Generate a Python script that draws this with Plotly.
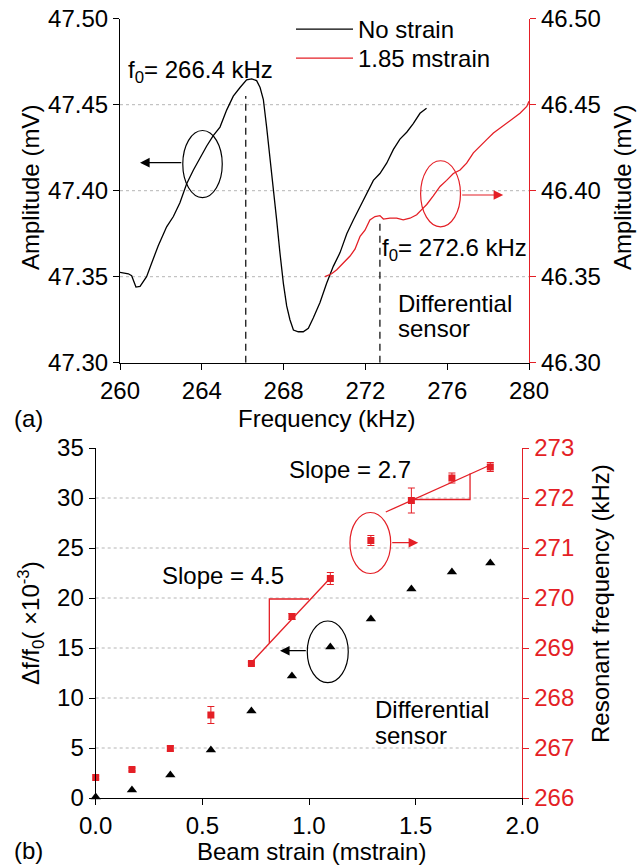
import plotly.graph_objects as go

W, H = 640, 865

# ---------------- Panel (a) data ----------------
freq_no_strain = [260.00, 260.41, 260.57, 260.78, 260.98, 261.30, 261.55, 261.87, 262.28, 262.61,
                  262.93, 263.26, 263.59, 263.91, 264.24, 264.56, 264.89, 265.22, 265.54, 265.87,
                  266.19, 266.44, 266.68, 266.85, 267.01, 267.17, 267.33, 267.50, 267.66, 267.82,
                  267.99, 268.15, 268.31, 268.48, 268.72, 268.96, 269.21, 269.45, 269.78, 270.10,
                  270.43, 270.76, 271.09, 271.41, 271.74, 272.06, 272.39, 272.71, 273.04, 273.37,
                  273.69, 274.02, 274.34, 274.67, 274.99]
amp_no_strain = [47.3525, 47.3517, 47.3506, 47.3440, 47.3444, 47.3500, 47.3580, 47.3680, 47.3790, 47.3850,
                 47.3930, 47.4040, 47.4120, 47.4190, 47.4260, 47.4320, 47.4370, 47.4470, 47.4550, 47.4600,
                 47.4645, 47.4650, 47.4640, 47.4600, 47.4530, 47.4370, 47.4200, 47.4025, 47.3830, 47.3640,
                 47.3460, 47.3330, 47.3250, 47.3190, 47.3180, 47.3180, 47.3200, 47.3260, 47.3350, 47.3460,
                 47.3560, 47.3640, 47.3750, 47.3830, 47.3910, 47.3986, 47.4060, 47.4100, 47.4160, 47.4240,
                 47.4300, 47.4340, 47.4390, 47.4450, 47.4480]

freq_strained = [270.02, 270.35, 270.60, 270.92, 271.25, 271.49, 271.74, 271.98, 272.22, 272.47,
                 272.71, 272.88, 273.20, 273.53, 273.85, 274.18, 274.51, 274.75, 275.00, 275.32,
                 275.65, 275.97, 276.30, 276.63, 276.95, 277.28, 277.60, 277.93, 278.26, 278.58,
                 278.91, 279.23, 279.56, 279.89, 280.00]
amp_strained = [46.3500, 46.3517, 46.3540, 46.3580, 46.3620, 46.3660, 46.3735, 46.3770, 46.3830, 46.3850,
                46.3855, 46.3835, 46.3840, 46.3840, 46.3830, 46.3840, 46.3860, 46.3890, 46.3920, 46.3970,
                46.4025, 46.4060, 46.4100, 46.4120, 46.4160, 46.4220, 46.4260, 46.4297, 46.4335, 46.4364,
                46.4390, 46.4420, 46.4450, 46.4490, 46.4520]

f0_no_strain = 266.15
f0_strained = 272.71

# ---------------- Panel (b) data ----------------
strain = [0.00, 0.17, 0.35, 0.54, 0.73, 0.92, 1.10, 1.29, 1.48, 1.67, 1.85]
rel_shift = [0.1, 0.8, 2.3, 4.8, 8.7, 12.2, 15.1, 17.9, 20.9, 22.6, 23.5]
res_freq = [266.41, 266.57, 266.99, 267.66, 268.69, 269.63, 270.39, 271.15, 271.95, 272.40, 272.62]
res_err = [0.03, 0.03, 0.05, 0.17, 0.03, 0.06, 0.12, 0.10, 0.25, 0.10, 0.09]

fit1_strain = [0.73, 1.10]
fit1_freq = [268.71, 270.40]
tri1_strain = [0.814, 0.814, 1.00]
tri1_freq = [269.10, 269.98, 269.98]
fit2_strain = [1.36, 1.85]
fit2_freq = [271.72, 272.66]
tri2_strain = [1.48, 1.755, 1.755]
tri2_freq = [271.97, 271.97, 272.49]

RED = "#e41f26"
FONT = "Liberation Sans, Arial, sans-serif"
FS = 24


def px(x):
    return x / W


def py(y):
    return 1 - y / H


fig = go.Figure()

# Panel (a) traces
fig.add_trace(go.Scatter(x=freq_no_strain, y=amp_no_strain, mode="lines", name="No strain",
                         line=dict(color="black", width=1.3), xaxis="x", yaxis="y", legend="legend"))
fig.add_trace(go.Scatter(x=freq_strained, y=amp_strained, mode="lines", name="1.85 mstrain",
                         line=dict(color=RED, width=1.3), xaxis="x", yaxis="y2", legend="legend2"))

# Panel (b) traces
fig.add_trace(go.Scatter(x=strain, y=rel_shift, mode="markers", showlegend=False,
                         marker=dict(symbol="triangle-up", size=9, color="black"),
                         cliponaxis=False, xaxis="x2", yaxis="y3"))
fig.add_trace(go.Scatter(x=fit1_strain, y=fit1_freq, mode="lines", showlegend=False,
                         line=dict(color=RED, width=1.3), xaxis="x2", yaxis="y4"))
fig.add_trace(go.Scatter(x=tri1_strain, y=tri1_freq, mode="lines", showlegend=False,
                         line=dict(color=RED, width=1.3), xaxis="x2", yaxis="y4"))
fig.add_trace(go.Scatter(x=fit2_strain, y=fit2_freq, mode="lines", showlegend=False,
                         line=dict(color=RED, width=1.3), xaxis="x2", yaxis="y4"))
fig.add_trace(go.Scatter(x=tri2_strain, y=tri2_freq, mode="lines", showlegend=False,
                         line=dict(color=RED, width=1.3), xaxis="x2", yaxis="y4"))
fig.add_trace(go.Scatter(x=strain, y=res_freq, mode="markers", showlegend=False,
                         marker=dict(symbol="square", size=7, color=RED),
                         error_y=dict(type="data", array=res_err, color=RED, thickness=1, width=3.5),
                         cliponaxis=False, xaxis="x2", yaxis="y4"))

shapes = []
# dotted grid lines
for v in [47.35, 47.40, 47.45]:
    shapes.append(dict(type="line", xref="x", yref="y", x0=260, x1=280, y0=v, y1=v,
                       line=dict(color="#b5b5b5", width=1, dash="dot"), layer="below"))
for v in [5, 10, 15, 20, 25, 30]:
    shapes.append(dict(type="line", xref="x2", yref="y3", x0=0, x1=2, y0=v, y1=v,
                       line=dict(color="#b5b5b5", width=1, dash="dot"), layer="below"))
# dashed f0 markers
shapes.append(dict(type="line", xref="x", yref="y", x0=f0_no_strain, x1=f0_no_strain, y0=47.30, y1=47.455,
                   line=dict(color="black", width=1.2, dash="7px,5px")))
shapes.append(dict(type="line", xref="x", yref="y2", x0=f0_strained, x1=f0_strained, y0=46.30, y1=46.382,
                   line=dict(color="black", width=1.2, dash="7px,5px")))
# ellipses
shapes.append(dict(type="circle", xref="x", yref="y", x0=263.07, x1=265.0, y0=47.396, y1=47.435,
                   line=dict(color="black", width=1.2)))
shapes.append(dict(type="circle", xref="x", yref="y2", x0=274.70, x1=276.65, y0=46.379, y1=46.4174,
                   line=dict(color=RED, width=1.2)))
shapes.append(dict(type="circle", xref="x2", yref="y3", x0=0.992, x1=1.184, y0=11.53, y1=17.7,
                   line=dict(color="black", width=1.2)))
shapes.append(dict(type="circle", xref="x2", yref="y4", x0=1.192, x1=1.383, y0=270.49, y1=271.71,
                   line=dict(color=RED, width=1.2)))

tf = dict(family=FONT, size=FS, color="black")
annotations = []


def txt(text, x, y, xanchor="left", color="black", textangle=0, size=FS):
    annotations.append(dict(text=text, xref="paper", yref="paper", x=px(x), y=py(y),
                            xanchor=xanchor, yanchor="middle", showarrow=False,
                            textangle=textangle, font=dict(family=FONT, size=size, color=color)))


def arrow(xh, yh, xt, yt, xref, yref, color):
    annotations.append(dict(text="", x=xh, y=yh, ax=xt, ay=yt, xref=xref, yref=yref,
                            axref=xref, ayref=yref, showarrow=True, arrowhead=2,
                            arrowsize=1.6, arrowwidth=1.2, arrowcolor=color))


arrow(260.98, 47.4163, 263.07, 47.4163, "x", "y", "black")
arrow(278.74, 46.3975, 276.66, 46.3975, "x", "y2", RED)
arrow(0.864, 14.73, 0.992, 14.73, "x2", "y3", "black")
arrow(1.512, 271.106, 1.383, 271.106, "x2", "y4", RED)

txt("f<sub>0</sub>= 266.4 kHz", 126, 72)
txt("f<sub>0</sub>= 272.6 kHz", 380, 250)
txt("Differential", 396, 303)
txt("sensor", 396, 328)
txt("Differential", 373, 709)
txt("sensor", 373, 735)
txt("Slope = 4.5", 160, 575)
txt("Slope = 2.7", 287, 470)
txt("(a)", 12, 418)
txt("(b)", 12, 850)
txt("Frequency (kHz)", 326, 418, xanchor="center")
txt("Beam strain (mstrain)", 311, 851, xanchor="center")
txt("Amplitude (mV)", 30, 188, xanchor="center", textangle=-90)
txt("Amplitude (mV)", 622, 188, xanchor="center", textangle=-90)
txt("\u0394f/f<sub>0</sub>( \u00d710<sup>-3</sup>)", 31, 623, xanchor="center", textangle=-90)
txt("Resonant frequency (kHz)", 600, 604, xanchor="center", textangle=-90)

common = dict(showline=True, linewidth=1.2, ticks="outside", ticklen=6, tickwidth=1.2,
              showgrid=False, zeroline=False, automargin=False)

leg = dict(xanchor="left", yanchor="top", bgcolor="rgba(0,0,0,0)",
           font=dict(family=FONT, size=FS, color="black"), itemwidth=57)

fig.update_layout(
    width=W, height=H,
    margin=dict(l=0, r=0, t=0, b=0, pad=0, autoexpand=False),
    paper_bgcolor="white", plot_bgcolor="white",
    font=tf,
    showlegend=True,
    legend=dict(x=px(291), y=py(7), **leg),
    legend2=dict(x=px(291), y=py(36), **leg),
    xaxis=dict(domain=[px(120), px(529)], range=[260, 280], anchor="y",
               tickvals=[260, 264, 268, 272, 276, 280], linecolor="black", tickcolor="black",
               tickfont=tf, **common),
    yaxis=dict(domain=[py(362.7), py(18.7)], range=[47.30, 47.50], anchor="x",
               tickvals=[47.30, 47.35, 47.40, 47.45, 47.50], tickformat=".2f",
               linecolor="black", tickcolor="black", tickfont=tf, **common),
    yaxis2=dict(range=[46.30, 46.50], overlaying="y", side="right", anchor="x",
                tickvals=[46.30, 46.35, 46.40, 46.45, 46.50], tickformat=".2f",
                linecolor=RED, tickcolor=RED, tickfont=dict(family=FONT, size=FS, color="black"),
                **common),
    xaxis2=dict(domain=[px(95.7), px(522.3)], range=[0, 2], anchor="y3",
                tickvals=[0, 0.5, 1.0, 1.5, 2.0], tickformat=".1f",
                linecolor="black", tickcolor="black", tickfont=tf, **common),
    yaxis3=dict(domain=[py(798), py(448)], range=[0, 35], anchor="x2",
                tickvals=[0, 5, 10, 15, 20, 25, 30, 35],
                linecolor="black", tickcolor="black", tickfont=tf, **common),
    yaxis4=dict(range=[266, 273], overlaying="y3", side="right", anchor="x2",
                tickvals=[266, 267, 268, 269, 270, 271, 272, 273],
                linecolor=RED, tickcolor=RED, tickfont=dict(family=FONT, size=FS, color=RED),
                **common),
    shapes=shapes,
    annotations=annotations,
)

fig.write_html("out.html", config={"displayModeBar": False},
               post_script="document.body.style.margin='0';document.body.style.padding='0';")
